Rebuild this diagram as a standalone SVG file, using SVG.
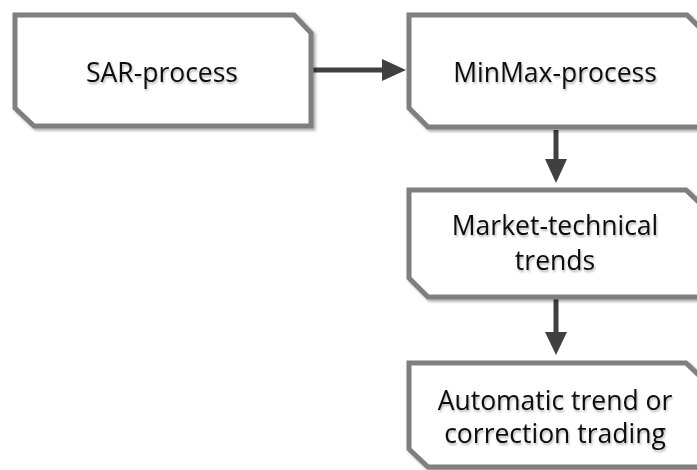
<svg xmlns="http://www.w3.org/2000/svg" width="697" height="470" viewBox="0 0 697 470">
<style>
.box{fill:#ffffff;stroke:#7f7f7f;stroke-width:5;stroke-linejoin:miter;filter:url(#sh)}
.lbl{font-family:"Open Sans","Noto Sans",sans-serif;font-size:26.5px;fill:#111;text-anchor:middle;filter:url(#tsh)}
.conn{stroke:#404040;stroke-width:5;fill:none}
.head{fill:#404040}
</style>
<defs>
<filter id="sh" x="-10%" y="-10%" width="120%" height="130%">
<feGaussianBlur in="SourceAlpha" stdDeviation="1.5"/>
<feOffset dx="1.5" dy="2" result="b"/>
<feComponentTransfer><feFuncA type="linear" slope="0.35"/></feComponentTransfer>
<feMerge><feMergeNode/><feMergeNode in="SourceGraphic"/></feMerge>
</filter>
<filter id="tsh" x="-10%" y="-20%" width="120%" height="150%">
<feGaussianBlur in="SourceAlpha" stdDeviation="1"/>
<feOffset dx="1" dy="1.5"/>
<feComponentTransfer><feFuncA type="linear" slope="0.3"/></feComponentTransfer>
<feMerge><feMergeNode/><feMergeNode in="SourceGraphic"/></feMerge>
</filter>
</defs>
<g id="connectors">
<line class="conn" x1="313" y1="70" x2="385" y2="70"/>
<polygon class="head" points="382,59 406,70 382,81"/>
<line class="conn" x1="556" y1="130" x2="556" y2="162"/>
<polygon class="head" points="545,159 556,183 567,159"/>
<line class="conn" x1="556" y1="299" x2="556" y2="335"/>
<polygon class="head" points="545,332 556,355 567,332"/>
</g>
<g id="sar">
<polygon class="box" points="15,15 294,15 311,33 311,126 34,126 15,108"/>
<text class="lbl" x="162" y="82">SAR-process</text>
</g>
<g id="minmax">
<polygon class="box" points="409,15 687,15 705,33 705,127 428,127 409,108"/>
<text class="lbl" x="555" y="82">MinMax-process</text>
</g>
<g id="market">
<polygon class="box" points="409,190 686,190 705,208 705,297 428,297 409,278"/>
<text class="lbl" x="555" y="235">Market-technical</text>
<text class="lbl" x="555" y="270">trends</text>
</g>
<g id="auto">
<polygon class="box" points="409,363 686,363 705,381 705,467 428,467 409,449"/>
<text class="lbl" x="555" y="410">Automatic trend or</text>
<text class="lbl" x="555" y="443">correction trading</text>
</g>
</svg>
